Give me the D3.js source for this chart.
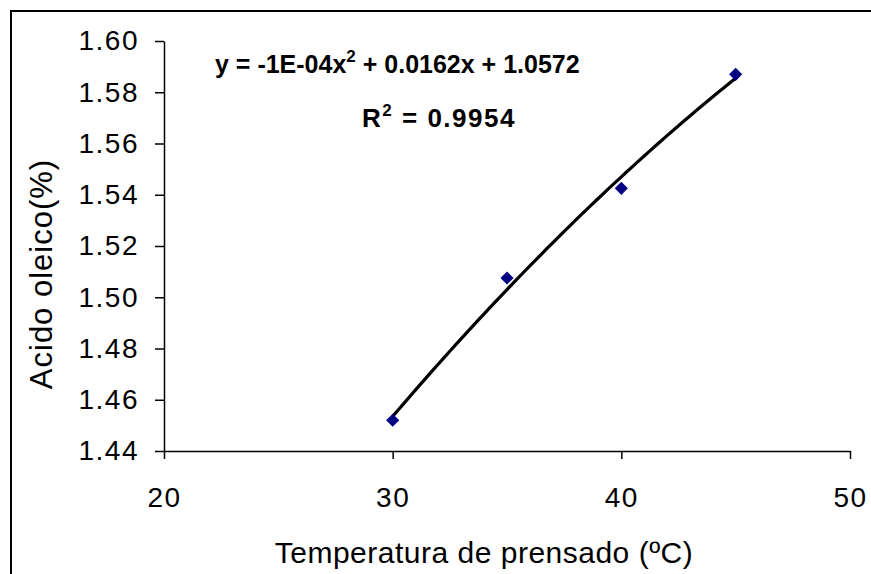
<!DOCTYPE html>
<html>
<head>
<meta charset="utf-8">
<script src="https://cdn.jsdelivr.net/npm/d3@7"></script>
<style>
  body { margin: 0; background: #fff; }
  svg { font-family: "Liberation Sans", Arial, sans-serif; }
</style>
</head>
<body>
<svg width="871" height="574"></svg>
<script>
const temps = [30, 35, 40, 45];
const acid = [1.452, 1.5075, 1.5425, 1.587];
const xTicks = [20, 30, 40, 50];
const yTicks = [1.44, 1.46, 1.48, 1.50, 1.52, 1.54, 1.56, 1.58, 1.60];

const margin = {top: 41, right: 21, bottom: 123, left: 164},
    width = 871 - margin.left - margin.right,
    height = 574 - margin.top - margin.bottom;

const svg = d3.select("svg");

// outer frame (right and bottom run off the picture)
svg.append("path")
    .attr("d", "M11,574V11H871")
    .attr("fill", "none")
    .attr("stroke", "#000")
    .attr("stroke-width", 2);

const g = svg.append("g")
    .attr("transform", `translate(${margin.left},${margin.top})`);

const x = d3.scaleLinear().domain([20, 50]).range([0, width]);
const y = d3.scaleLinear().domain([1.44, 1.60]).range([height, 0]);

const xAxis = d3.axisBottom(x).tickValues(xTicks).tickSize(8).tickSizeOuter(0).tickPadding(28);
const yAxis = d3.axisLeft(y).tickValues(yTicks).tickSize(9).tickSizeOuter(0).tickPadding(16)
    .tickFormat(d3.format(".2f"));

g.append("g")
    .attr("transform", `translate(0,${height})`)
    .call(xAxis)
    .call(a => a.selectAll("text").attr("font-size", 28).attr("letter-spacing", 1.5).attr("fill", "#000"));

g.append("g")
    .call(yAxis)
    .call(a => a.selectAll("text").attr("font-size", 28).attr("letter-spacing", 1.5).attr("fill", "#000"));

g.selectAll(".domain, .tick line").attr("stroke", "#000").attr("stroke-width", 1.5);

// quadratic least-squares trendline (same as the spreadsheet trendline)
function polyFit(xs, ys) {
  const n = xs.length;
  let s = [0, 0, 0, 0, 0], t = [0, 0, 0];
  for (let i = 0; i < n; i++) {
    for (let k = 0; k < 5; k++) s[k] += Math.pow(xs[i], k);
    for (let k = 0; k < 3; k++) t[k] += ys[i] * Math.pow(xs[i], k);
  }
  const A = [[s[0], s[1], s[2], t[0]], [s[1], s[2], s[3], t[1]], [s[2], s[3], s[4], t[2]]];
  for (let i = 0; i < 3; i++) {
    for (let j = i + 1; j < 3; j++) {
      const f = A[j][i] / A[i][i];
      for (let k = i; k < 4; k++) A[j][k] -= f * A[i][k];
    }
  }
  const c = [0, 0, 0];
  for (let i = 2; i >= 0; i--) {
    let v = A[i][3];
    for (let k = i + 1; k < 3; k++) v -= A[i][k] * c[k];
    c[i] = v / A[i][i];
  }
  return c;
}
const coef = polyFit(temps, acid);
const fitX = d3.range(temps[0], temps[temps.length - 1] + 0.01, 0.25);

g.append("path")
    .datum(fitX)
    .attr("fill", "none")
    .attr("stroke", "#000")
    .attr("stroke-width", 3.2)
    .attr("d", d3.line().x(d => x(d)).y(d => y(coef[0] + coef[1] * d + coef[2] * d * d)));

g.selectAll(".pt")
    .data(temps)
    .enter()
    .append("path")
    .attr("class", "pt")
    .attr("d", d3.symbol(d3.symbolDiamond2, 110))
    .attr("transform", (d, i) => `translate(${x(d)},${y(acid[i])})`)
    .attr("fill", "#000080");

// equation labels
const eq = svg.append("text")
    .attr("x", 215).attr("y", 73)
    .attr("font-size", 25).attr("font-weight", "bold");
eq.append("tspan").text("y = -1E-04x");
eq.append("tspan").attr("font-size", 17).attr("dy", -11).text("2");
eq.append("tspan").attr("dy", 11).text(" + 0.0162x + 1.0572");

const r2 = svg.append("text")
    .attr("x", 362).attr("y", 127)
    .attr("font-size", 26).attr("font-weight", "bold")
    .attr("letter-spacing", 1.5);
r2.append("tspan").text("R");
r2.append("tspan").attr("font-size", 17).attr("dy", -11).text("2");
r2.append("tspan").attr("dy", 11).text(" = 0.9954");

// axis titles
svg.append("text")
    .attr("x", 484).attr("y", 563)
    .attr("text-anchor", "middle")
    .attr("font-size", 30)
    .attr("letter-spacing", 0.5)
    .text("Temperatura de prensado (ºC)");

svg.append("text")
    .attr("transform", "translate(52,274) rotate(-90)")
    .attr("text-anchor", "middle")
    .attr("font-size", 31)
    .attr("letter-spacing", 1)
    .text("Acido oleico(%)");
</script>
</body>
</html>
